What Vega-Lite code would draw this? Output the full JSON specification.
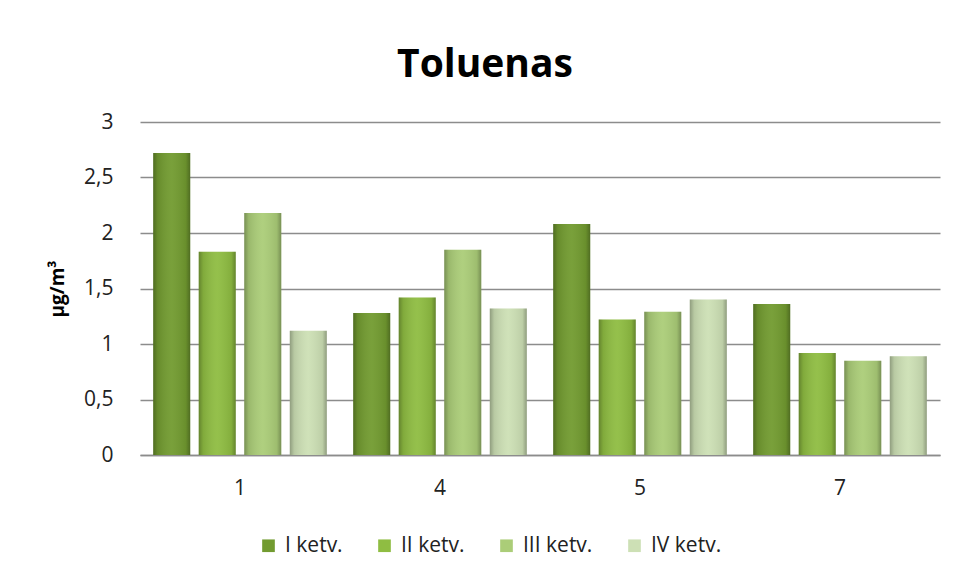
{
  "$schema": "https://vega.github.io/schema/vega-lite/v6.json",
  "autosize": {"type": "none"},
  "padding": {"left": 140, "top": 122, "right": 17, "bottom": 126},
  "width": 800,
  "height": 333,
  "background": "white",
  "title": {
    "text": "Toluenas",
    "font": "Open Sans",
    "fontSize": 39,
    "fontWeight": "bold",
    "color": "#000000",
    "anchor": "middle",
    "dx": -55,
    "offset": 26
  },
  "data": {
    "values": [
      {"site": "1", "q": "I ketv.", "v": 2.72},
      {"site": "1", "q": "II ketv.", "v": 1.83},
      {"site": "1", "q": "III ketv.", "v": 2.18},
      {"site": "1", "q": "IV ketv.", "v": 1.12},
      {"site": "4", "q": "I ketv.", "v": 1.28},
      {"site": "4", "q": "II ketv.", "v": 1.42},
      {"site": "4", "q": "III ketv.", "v": 1.85},
      {"site": "4", "q": "IV ketv.", "v": 1.32},
      {"site": "5", "q": "I ketv.", "v": 2.08},
      {"site": "5", "q": "II ketv.", "v": 1.22},
      {"site": "5", "q": "III ketv.", "v": 1.29},
      {"site": "5", "q": "IV ketv.", "v": 1.40},
      {"site": "7", "q": "I ketv.", "v": 1.36},
      {"site": "7", "q": "II ketv.", "v": 0.92},
      {"site": "7", "q": "III ketv.", "v": 0.85},
      {"site": "7", "q": "IV ketv.", "v": 0.89}
    ]
  },
  "encoding": {
    "x": {
      "field": "site",
      "type": "nominal",
      "sort": ["1", "4", "5", "7"],
      "scale": {"paddingInner": 0, "paddingOuter": 0},
      "axis": {
        "title": null,
        "labelAngle": 0,
        "labelFont": "Open Sans",
        "labelFontSize": 21,
        "labelColor": "#222222",
        "labelPadding": 22,
        "ticks": false,
        "domainColor": "#8c8c8c",
        "domainWidth": 1.5
      }
    },
    "xOffset": {
      "field": "q",
      "type": "nominal",
      "sort": ["I ketv.", "II ketv.", "III ketv.", "IV ketv."],
      "scale": {"paddingInner": 0.187, "paddingOuter": 0.29}
    },
    "y": {
      "field": "v",
      "type": "quantitative",
      "scale": {"domain": [0, 3]},
      "axis": {
        "title": "µg/m³",
        "titleFont": "Open Sans",
        "titleFontSize": 19,
        "titleFontWeight": "bold",
        "titleColor": "#000000",
        "titlePadding": 16,
        "values": [0, 0.5, 1, 1.5, 2, 2.5, 3],
        "labelExpr": "replace(format(datum.value, '~g'), '.', ',')",
        "labelFont": "Open Sans",
        "labelFontSize": 21,
        "labelColor": "#222222",
        "labelPadding": 27,
        "ticks": false,
        "domain": false,
        "grid": true,
        "gridColor": "#8c8c8c",
        "gridWidth": 1.5
      }
    }
  },
  "layer": [
    {
      "mark": {"type": "bar"},
      "encoding": {
        "color": {
          "field": "q",
          "type": "nominal",
          "sort": ["I ketv.", "II ketv.", "III ketv.", "IV ketv."],
          "scale": {"range": ["#729b30", "#8fbd42", "#abcd78", "#cde0b5"]},
          "legend": {
            "title": null,
            "orient": "none",
            "direction": "horizontal",
            "legendX": 118,
            "legendY": 413,
            "symbolType": "square",
            "symbolSize": 160,
            "symbolStrokeWidth": 0,
            "labelFont": "Open Sans",
            "labelFontSize": 21,
            "labelColor": "#222222",
            "columnPadding": 31,
            "labelOffset": 6
          }
        }
      }
    },
    {
      "mark": {
        "type": "bar",
        "color": {
          "x1": 0, "y1": 0, "x2": 1, "y2": 0,
          "gradient": "linear",
          "stops": [
            {"offset": 0, "color": "rgba(0,0,0,0.30)"},
            {"offset": 0.12, "color": "rgba(0,0,0,0.10)"},
            {"offset": 0.5, "color": "rgba(255,255,255,0.05)"},
            {"offset": 0.88, "color": "rgba(0,0,0,0.08)"},
            {"offset": 1, "color": "rgba(0,0,0,0.30)"}
          ]
        }
      },
      "encoding": {}
    }
  ],
  "config": {
    "view": {"stroke": null}
  }
}
